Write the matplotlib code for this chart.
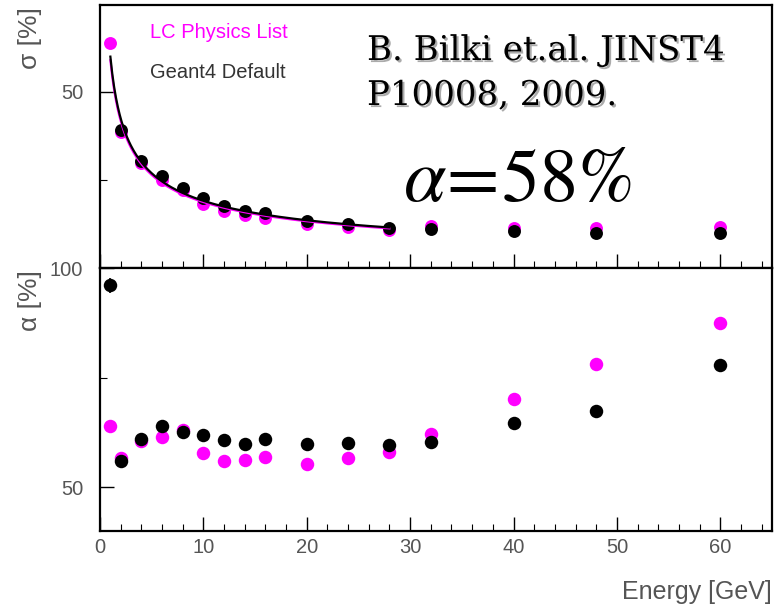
import numpy as np
import matplotlib
matplotlib.use("Agg")
import matplotlib.pyplot as plt
import matplotlib.patheffects as pe
from matplotlib.ticker import MultipleLocator, FixedLocator

# beam energies [GeV]
energy = [1, 2, 4, 6, 8, 10, 12, 14, 16, 20, 24, 28, 32, 40, 48, 60]

# resolution sigma [%]
sigma_lc = [63.8, 38.5, 29.8, 25.0, 22.2, 18.2, 16.3, 15.1, 14.2, 12.4, 11.6, 10.8, 11.9, 11.4, 11.4, 11.7]
sigma_g4 = [np.nan, 39.2, 30.4, 26.2, 22.7, 19.9, 17.7, 16.3, 15.6, 13.4, 12.5, 11.4, 11.1, 10.5, 9.9, 9.9]

# stochastic term alpha [%]
alpha_lc = [63.9, 56.7, 60.5, 61.4, 63.0, 57.7, 55.9, 56.3, 57.0, 55.3, 56.7, 58.0, 62.2, 70.1, 78.0, 87.4]
alpha_g4 = [96.1, 55.9, 61.1, 64.0, 62.6, 61.8, 60.7, 59.9, 61.1, 59.9, 60.1, 59.7, 60.3, 64.6, 67.3, 77.9]
alpha_g4_err = [1.7] + [0] * 15

# fit sigma = a/sqrt(E) (+) b, fitted over 1-28 GeV
fit_lc = (59.0, 1.5)
fit_g4 = (60.0, 2.0)
fit_range = (1.0, 28.0)

MAG = "#ff00ff"
GRAY = "#555555"

fig = plt.figure(figsize=(7.84, 6.08), dpi=100)
ax1 = fig.add_axes([0.1276, 0.5592, 0.857, 0.4326])
ax2 = fig.add_axes([0.1276, 0.1266, 0.857, 0.4326])

ms = 9.3
ax1.plot(energy, sigma_lc, "o", color=MAG, ms=ms, mec="none", zorder=2)
ax1.plot(energy, sigma_g4, "o", color="black", ms=ms, mec="none", zorder=3)
e = np.linspace(fit_range[0], fit_range[1], 300)
for (a, b), col in [(fit_lc, MAG), (fit_g4, "black")]:
    ax1.plot(e, np.sqrt(a**2 / e + b**2), color=col, lw=1.6, zorder=4)

ax2.plot(energy, alpha_lc, "o", color=MAG, ms=ms + 0.4, mec="none", zorder=2)
ax2.errorbar(energy, alpha_g4, yerr=alpha_g4_err, fmt="o", color="black", ms=ms + 0.4,
             mec="none", elinewidth=1.2, capsize=0, zorder=3)

ax1.set_xlim(0, 65)
ax2.set_xlim(0, 65)
ax1.set_ylim(0, 74.7)
ax2.set_ylim(40, 100)

ax1.yaxis.set_major_locator(FixedLocator([50]))
ax1.yaxis.set_minor_locator(FixedLocator([25]))
ax2.yaxis.set_major_locator(FixedLocator([50, 100]))
ax2.yaxis.set_minor_locator(FixedLocator([75]))

for ax in (ax1, ax2):
    for s in ax.spines.values():
        s.set_linewidth(1.6)
    ax.xaxis.set_major_locator(MultipleLocator(10))
    ax.xaxis.set_minor_locator(MultipleLocator(2))
    ax.tick_params(axis="both", which="major", direction="in", length=10, width=1.0,
                   colors="black", labelcolor=GRAY, labelsize=14.5)
    ax.tick_params(axis="both", which="minor", direction="in", length=5, width=0.8)
    ax.tick_params(axis="y", pad=12)
    ax.tick_params(axis="x", pad=5)

ax1.set_xticklabels([])
for ax in (ax1, ax2):
    for lab in ax.get_xticklabels() + ax.get_yticklabels():
        lab.set_family("Liberation Sans")

fig.text(30 / 784, 1 - 7 / 608, "σ [%]", rotation=90, ha="center", va="top",
         fontsize=19, color=GRAY, family="Liberation Sans")
fig.text(30 / 784, 1 - 270 / 608, "α [%]", rotation=90, ha="center", va="top",
         fontsize=19, color=GRAY, family="Liberation Sans")
fig.text(772 / 784, 1 - 592 / 608, "Energy [GeV]", ha="right", va="center",
         fontsize=18, color=GRAY, family="Liberation Sans")

fig.text(150 / 784, 1 - 33 / 608, "LC Physics List", ha="left", va="center",
         fontsize=14.5, color=MAG, family="Liberation Sans")
fig.text(150 / 784, 1 - 72 / 608, "Geant4 Default", ha="left", va="center",
         fontsize=14.5, color="#333333", family="Liberation Sans")

shadow = [pe.SimplePatchShadow(offset=(1.5, -1.5), shadow_rgbFace="#888888", alpha=0.7), pe.Normal()]
fig.text(367 / 784, 1 - 51 / 608, "B. Bilki et.al. JINST4", ha="left", va="center",
         fontsize=24.5, color="black", family="DejaVu Serif", path_effects=shadow)
fig.text(367 / 784, 1 - 96 / 608, "P10008, 2009.", ha="left", va="center",
         fontsize=24.5, color="black", family="DejaVu Serif", path_effects=shadow)

plt.rcParams["mathtext.fontset"] = "stix"
fig.text(403 / 784, 1 - 180 / 608, r"$\alpha\!=\!58\%$", ha="left", va="center",
         fontsize=55, color="black")

fig.savefig("out.png", dpi=100)
